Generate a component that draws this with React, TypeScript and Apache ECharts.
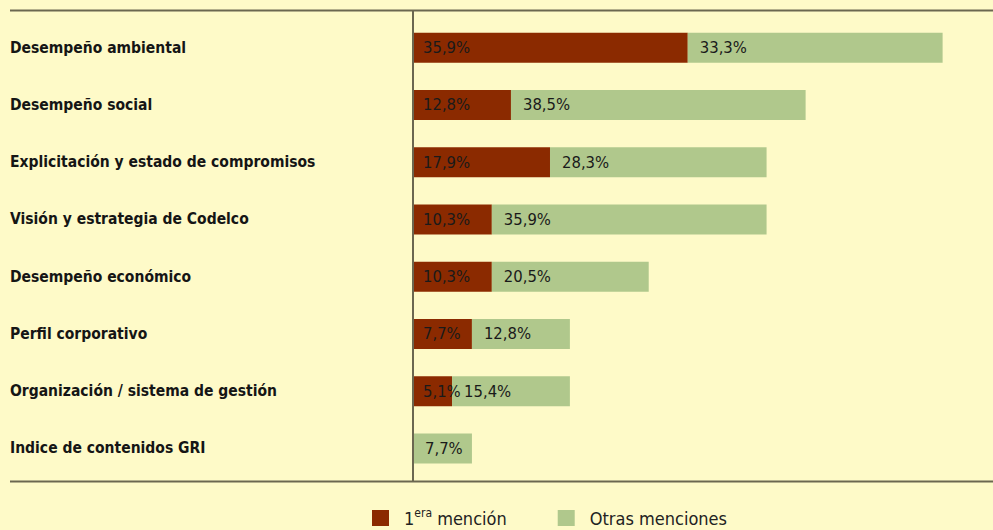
import React, { useEffect, useRef } from "react";
import * as echarts from "echarts";

const categories = [
  "Desempeño ambiental",
  "Desempeño social",
  "Explicitación y estado de compromisos",
  "Visión y estrategia de Codelco",
  "Desempeño económico",
  "Perfil corporativo",
  "Organización / sistema de gestión",
  "Indice de contenidos GRI",
];
const primeraMencion = [35.9, 12.8, 17.9, 10.3, 10.3, 7.7, 5.1, 0];
const otrasMenciones = [33.3, 38.5, 28.3, 35.9, 20.5, 12.8, 15.4, 7.7];
const seriesNames = ["1era mención", "Otras menciones"];

const FONT = "'DejaVu Sans Condensed', 'DejaVu Sans', sans-serif";
const BG = "#FEFAC8";
const LINE = "#6b6750";

const fmt = (v: number) => v.toFixed(1).replace(".", ",") + "%";

export default function App() {
  const ref = useRef<HTMLDivElement>(null);
  useEffect(() => {
    if (!ref.current) return;
    const chart = echarts.init(ref.current, undefined, { renderer: "svg" });
    chart.setOption({
      animation: false,
      backgroundColor: BG,
      textStyle: { fontFamily: FONT },
      grid: { left: 413, right: 6, top: 19, height: 458, containLabel: false },
      xAxis: {
        type: "value",
        min: 0,
        max: 75,
        show: false,
      },
      yAxis: {
        type: "category",
        data: categories,
        inverse: true,
        axisLine: { show: false },
        axisTick: { show: false },
        axisLabel: {
          align: "left",
          margin: 403,
          fontFamily: FONT,
          fontSize: 15.5,
          fontWeight: "bold",
          color: "#151515",
        },
      },
      legend: {
        left: 372,
        top: 507,
        padding: 0,
        itemWidth: 17,
        itemHeight: 16,
        itemGap: 51,
        icon: "rect",
        textStyle: {
          fontFamily: FONT,
          fontSize: 18,
          lineHeight: 22,
          color: "#222",
          padding: [0, 0, 0, 10],
          rich: {
            sup: { fontSize: 12, lineHeight: 22, verticalAlign: "top", padding: [0, 0, 6, 0], fontFamily: FONT, color: "#222" },
            n: { fontSize: 18, lineHeight: 22, fontFamily: FONT, color: "#222" },
          },
        },
        formatter: (name: string) =>
          name === seriesNames[0] ? "{n|1}{sup|era}{n| mención}" : "{n|" + name + "}",
        data: seriesNames,
      },
      series: [
        {
          name: seriesNames[0],
          type: "bar",
          stack: "total",
          barWidth: 30,
          data: primeraMencion,
          itemStyle: { color: "#8B2A00" },
          label: {
            show: true,
            position: "insideLeft",
            distance: 10,
            fontFamily: FONT,
            fontSize: 16.5,
            color: "#1a1a1a",
            formatter: (p: any) => (p.value > 0 ? fmt(p.value) : ""),
          },
        },
        {
          name: seriesNames[1],
          type: "bar",
          stack: "total",
          barWidth: 30,
          data: otrasMenciones,
          itemStyle: { color: "#B0C88C" },
          label: {
            show: true,
            position: "insideLeft",
            distance: 12,
            fontFamily: FONT,
            fontSize: 16.5,
            color: "#1a1a1a",
            formatter: (p: any) => fmt(p.value),
          },
        },
      ],
      graphic: [
        { type: "line", shape: { x1: 10, y1: 10.5, x2: 993, y2: 10.5 }, style: { stroke: LINE, lineWidth: 2 }, z: 100 },
        { type: "line", shape: { x1: 10, y1: 481.5, x2: 993, y2: 481.5 }, style: { stroke: LINE, lineWidth: 2 }, z: 100 },
        { type: "line", shape: { x1: 413, y1: 10, x2: 413, y2: 482 }, style: { stroke: LINE, lineWidth: 2 }, z: 100 },
      ],
    });
    return () => chart.dispose();
  }, []);
  return (
    <div
      ref={ref}
      style={{ position: "fixed", left: 0, top: 0, width: 993, height: 530 }}
    />
  );
}
